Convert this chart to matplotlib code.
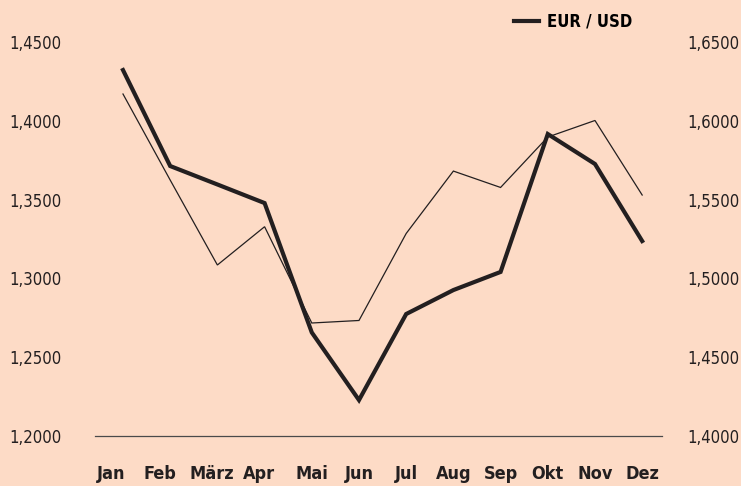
import matplotlib
matplotlib.use('Agg')
import matplotlib.pyplot as plt

plt.rcParams['font.family'] = ['DejaVu Sans']
plt.rcParams['font.stretch'] = 'condensed'

months = ['Jan', 'Feb', 'März', 'Apr', 'Mai', 'Jun', 'Jul', 'Aug', 'Sep', 'Okt', 'Nov', 'Dez']
eur_usd = [1.4322, 1.3713, 1.3596, 1.3478, 1.2657, 1.2228, 1.2774, 1.2926, 1.3041, 1.3916, 1.3726, 1.3237]
other = [1.6170, 1.5624, 1.5085, 1.5328, 1.4717, 1.4733, 1.5285, 1.5681, 1.5577, 1.5897, 1.6002, 1.5529]
left_ticks = [1.20, 1.25, 1.30, 1.35, 1.40, 1.45]
right_ticks = [1.40, 1.45, 1.50, 1.55, 1.60, 1.65]

bg = '#FDDBC6'
ink = '#231F20'

fig = plt.figure(figsize=(7.41, 4.86), dpi=100, facecolor=bg)
ax = fig.add_axes([95/741, 50/486, 567/741, 394/486])
ax.set_facecolor(bg)
ax2 = ax.twinx()

x = list(range(len(months)))
ax.plot(x, eur_usd, color=ink, lw=3.0, label='EUR / USD', solid_joinstyle='miter', zorder=3)
ax2.plot(x, other, color=ink, lw=0.9, solid_joinstyle='miter')

ax.set_xlim(-0.593, 11.42)
ax.set_ylim(1.20, 1.45)
ax2.set_ylim(1.40, 1.65)

ax.set_yticks(left_ticks)
ax.set_yticklabels([f'{v:.4f}'.replace('.', ',') for v in left_ticks])
ax2.set_yticks(right_ticks)
ax2.set_yticklabels([f'{v:.4f}'.replace('.', ',') for v in right_ticks])

# month labels sit a little left of the first points in the original
label_pos = [-0.25, 0.78, 1.88, 2.89] + x[4:]
ax.set_xticks(label_pos)
ax.set_xticklabels(months, fontweight='bold')

for a in (ax, ax2):
    for s in ('top', 'left', 'right'):
        a.spines[s].set_visible(False)
    a.spines['bottom'].set_color('#4a4a4a')
    a.spines['bottom'].set_linewidth(0.9)
ax2.spines['bottom'].set_visible(False)

ax.tick_params(axis='y', length=0, pad=24, labelsize=12, labelcolor=ink)
ax2.tick_params(axis='y', length=0, pad=18, labelsize=12, labelcolor=ink)
ax.tick_params(axis='x', length=0, pad=21, labelsize=13, labelcolor=ink)

fig.legend(loc='center left', bbox_to_anchor=(514/741, (486-22)/486), frameon=False,
           handlelength=1.5, handletextpad=0.5, borderpad=0, borderaxespad=0,
           prop={'weight': 'bold', 'size': 12})

fig.savefig('out.png', dpi=100, facecolor=bg)
